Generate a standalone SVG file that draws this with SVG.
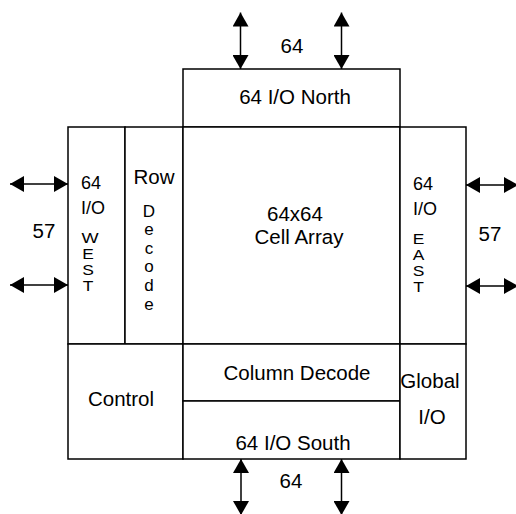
<svg xmlns="http://www.w3.org/2000/svg" width="516" height="514" viewBox="0 0 516 514">
<style>
.box{fill:#fff;stroke:#000;stroke-width:1.5}
.t{font-family:"Liberation Sans",Arial,sans-serif;font-size:20.5px;fill:#000}
.m{text-anchor:middle}
.s{font-size:18px}
.d{font-size:17px}
.v{font-size:14.5px}
.conn{stroke:#000;stroke-width:1.5;fill:none;marker-start:url(#ah);marker-end:url(#ah)}
</style>
<defs>
<marker id="ah" viewBox="0 0 14 16" refX="14" refY="8" markerWidth="14" markerHeight="16" markerUnits="userSpaceOnUse" orient="auto-start-reverse">
<path d="M0,0 L14,8 L0,16 z" fill="#000"/>
</marker>
</defs>
<rect width="516" height="514" fill="#fff"/>
<g id="north"><rect class="box" x="183" y="69" width="217" height="58"/><text class="t m" x="295" y="104">64 I/O North</text></g>
<g id="west"><rect class="box" x="68" y="127" width="57" height="217"/>
<text class="t s" x="81" y="189">64</text><text class="t s" x="81" y="214">I/O</text>
<text class="t v m" transform="translate(90 243) scale(1.25 1)">W</text><text class="t v m" transform="translate(88 259) scale(1.2 1)">E</text><text class="t v m" transform="translate(88 275) scale(1.2 1)">S</text><text class="t v m" transform="translate(88 291) scale(1.2 1)">T</text></g>
<g id="rowdecode"><rect class="box" x="125" y="127" width="58" height="217"/>
<text class="t m" x="154" y="184">Row</text>
<text class="t m d" x="149" y="217">D</text><text class="t m d" x="149" y="235">e</text><text class="t m d" x="149" y="254">c</text><text class="t m d" x="149" y="272">o</text><text class="t m d" x="149" y="291">d</text><text class="t m d" x="149" y="310">e</text></g>
<g id="cellarray"><rect class="box" x="183" y="127" width="217" height="217"/>
<text class="t m" x="295" y="221">64x64</text><text class="t m" x="299" y="244">Cell Array</text></g>
<g id="east"><rect class="box" x="400" y="127" width="66" height="217"/>
<text class="t s" x="413" y="190">64</text><text class="t s" x="413" y="215">I/O</text>
<text class="t v m" transform="translate(418.5 244) scale(1.2 1)">E</text><text class="t v m" transform="translate(418.5 260) scale(1.2 1)">A</text><text class="t v m" transform="translate(418.5 276) scale(1.2 1)">S</text><text class="t v m" transform="translate(418.5 292) scale(1.2 1)">T</text></g>
<g id="control"><rect class="box" x="68" y="344" width="115" height="115"/><text class="t m" x="121" y="406">Control</text></g>
<g id="columndecode"><rect class="box" x="183" y="344" width="217" height="57"/><text class="t m" x="297" y="380">Column Decode</text></g>
<g id="south"><rect class="box" x="183" y="401" width="217" height="58"/><text class="t m" x="293" y="450">64 I/O South</text></g>
<g id="globalio"><rect class="box" x="400" y="344" width="66" height="115"/><text class="t m" x="430" y="388">Global</text><text class="t m" x="432" y="424">I/O</text></g>
<g id="connectors">
<line class="conn" x1="240.5" y1="12.5" x2="240.5" y2="69"/>
<line class="conn" x1="341.5" y1="12.5" x2="341.5" y2="69"/>
<line class="conn" x1="241" y1="459" x2="241" y2="515"/>
<line class="conn" x1="341.5" y1="459" x2="341.5" y2="515"/>
<line class="conn" x1="10" y1="184" x2="68" y2="184"/>
<line class="conn" x1="10" y1="285" x2="68" y2="285"/>
<line class="conn" x1="466" y1="185" x2="518" y2="185"/>
<line class="conn" x1="466" y1="286" x2="518" y2="286"/>
</g>
<text class="t m" x="292" y="52.5">64</text>
<text class="t m" x="291" y="487.5">64</text>
<text class="t m" x="44" y="238">57</text>
<text class="t m" x="490" y="241">57</text>
</svg>
